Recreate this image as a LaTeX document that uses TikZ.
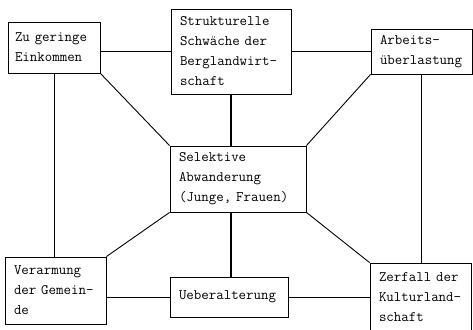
\documentclass[tikz,border=0pt]{standalone}
\begin{document}
\begin{tikzpicture}[x=1pt,y=1pt,
  box/.style={draw, line width=0.9pt, inner xsep=9pt, inner ysep=0pt, align=left,
    font=\ttfamily\fontsize{14.5}{20}\selectfont},
  thin/.style={line width=0.9pt},
  thick/.style={line width=1.8pt}]
\useasboundingbox (0,0) rectangle (473,-329);
\node[box, inner xsep=7pt, minimum width=92pt, minimum height=51pt, text width=78pt] (TL) at (54,-47.5) {Zu geringe\\Einkommen};
\node[box, minimum width=120pt, minimum height=85pt, text width=102pt] (TC) at (231,-51.5) {Strukturelle\\Schwäche der\\Berglandwirt-\\schaft};
\node[box, minimum width=101pt, minimum height=45pt, text width=83pt] (TR) at (421.5,-51.5) {Arbeits-\\überlastung};
\node[box, minimum width=136pt, minimum height=66pt, text width=118pt] (C) at (238,-179) {Selektive\\Abwanderung\\(Junge, Frauen)};
\node[box, minimum width=101pt, minimum height=67pt, text width=83pt] (BL) at (55.5,-290.5) {Verarmung\\der Gemein-\\de};
\node[box, minimum width=118pt, minimum height=40pt, text width=100pt] (U) at (229,-297) {Ueberalterung};
\node[box, minimum width=101pt, minimum height=68pt, text width=83pt] (BR) at (420.5,-297) {Zerfall der\\Kulturland-\\schaft};
\draw[thick] (TC.west) -- (TC.west -| TL.east);
\draw[thick] (TC.east) -- (TR.west);
\draw[thick] (TC.south) -- (TC.south |- C.north);
\draw[thick] (C.south -| TC.south) -- (U.north -| TC.south);
\draw[thin] (TL.south) -- (TL.south |- BL.north);
\draw[thin] (TR.south) -- (TR.south |- BR.north);
\draw[thin] (TL.south east) -- (C.north west);
\draw[thin] (TR.south west) -- (C.north east);
\draw[thin] (C.south west) -- (BL.north east);
\draw[thin] (C.south east) -- (BR.north west);
\draw[thin] (U.west) -- (U.west -| BL.east);
\draw[thin] (U.east) -- (BR.west);
\end{tikzpicture}
\end{document}
